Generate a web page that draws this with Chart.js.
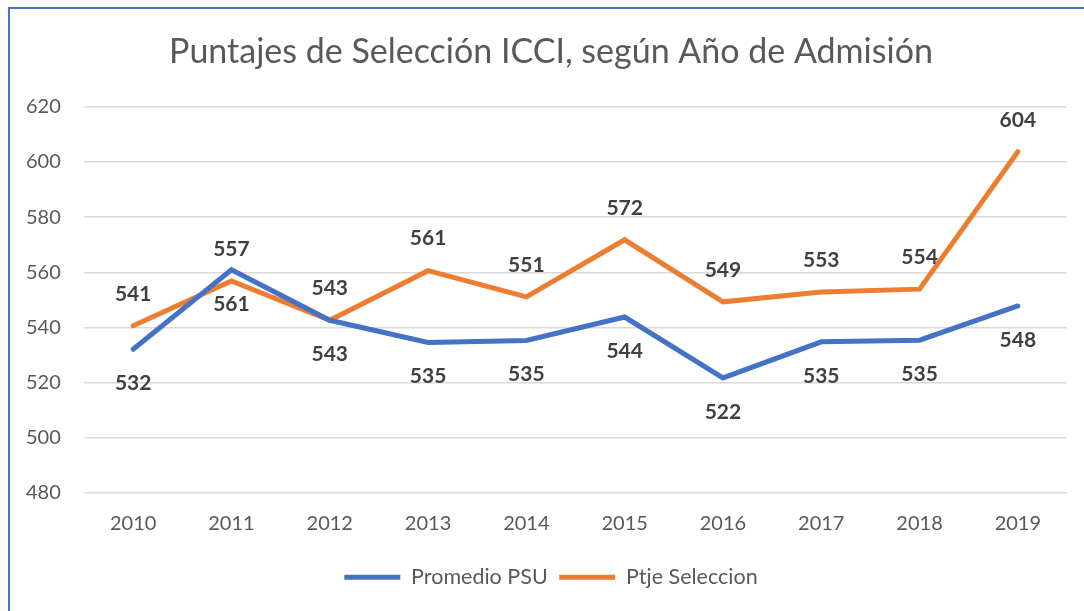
<!DOCTYPE html>
<html>
<head>
<meta charset="utf-8">
<script src="https://cdn.jsdelivr.net/npm/chart.js@4/dist/chart.umd.min.js"></script>
<style>
    html, body { margin: 0; padding: 0; background: #ffffff; overflow: hidden; }
    #frame {
        position: absolute; left: 8px; top: 7px; width: 1100px; height: 640px;
        border-left: 2px solid #4472c4; border-top: 2px solid #4472c4;
        pointer-events: none;
    }
    #wrap { position: absolute; left: 0; top: 0; width: 1084px; height: 611px; }
</style>
</head>
<body>
<div id="wrap"><canvas id="puntajesChart"></canvas></div>
<div id="frame"></div>
<script>
// Puntajes de seleccion ICCI
const years = ['2010', '2011', '2012', '2013', '2014', '2015', '2016', '2017', '2018', '2019'];
const promedioPSU = [532.1, 560.9, 542.6, 534.6, 535.3, 543.8, 521.7, 534.8, 535.4, 547.8];
const ptjeSeleccion = [540.6, 556.9, 542.6, 560.6, 551.1, 571.8, 549.3, 552.9, 553.9, 603.7];
const yTicks = [480, 500, 520, 540, 560, 580, 600, 620];

const FONT = 'Lato, "Open Sans", sans-serif';

// value labels: orange above the point, blue below
const valueLabels = {
    id: 'valueLabels',
    afterDatasetsDraw(chart) {
        const ctx = chart.ctx;
        ctx.save();
        ctx.font = 'bold 21px ' + FONT;
        ctx.fillStyle = '#404040';
        ctx.textAlign = 'center';
        ctx.textBaseline = 'middle';
        chart.data.datasets.forEach((ds, i) => {
            const meta = chart.getDatasetMeta(i);
            const dy = ds.labelAbove ? -32 : 34;
            meta.data.forEach((pt, j) => {
                ctx.fillText(String(Math.round(ds.data[j])), pt.x, pt.y + dy);
            });
        });
        ctx.restore();
    }
};

new Chart(document.getElementById('puntajesChart'), {
    type: 'line',
    data: {
        labels: years,
        datasets: [
            {
                label: 'Promedio PSU',
                data: promedioPSU,
                borderColor: '#4472c4',
                backgroundColor: '#4472c4',
                borderWidth: 5,
                borderCapStyle: 'round',
                pointRadius: 0,
                tension: 0,
                labelAbove: false
            },
            {
                label: 'Ptje Seleccion',
                data: ptjeSeleccion,
                borderColor: '#ed7d31',
                backgroundColor: '#ed7d31',
                borderWidth: 5,
                borderCapStyle: 'round',
                pointRadius: 0,
                tension: 0,
                labelAbove: true
            }
        ]
    },
    options: {
        responsive: true,
        maintainAspectRatio: false,
        animation: false,
        layout: { padding: { left: 35, right: 17, top: 0, bottom: 13 } },
        plugins: {
            title: {
                display: true,
                text: 'Puntajes de Selección ICCI, según Año de Admisión',
                color: '#595959',
                font: { family: FONT, size: 34, weight: 'normal' },
                padding: { top: 32, bottom: 34 }
            },
            legend: {
                position: 'bottom',
                labels: {
                    color: '#595959',
                    font: { family: FONT, size: 21.5 },
                    boxWidth: 56,
                    boxHeight: 5,
                    padding: 11.5,
                    generateLabels(chart) {
                        return Chart.defaults.plugins.legend.labels.generateLabels(chart).map(item => {
                            item.lineWidth = 0;
                            return item;
                        });
                    }
                }
            },
            tooltip: { enabled: false }
        },
        scales: {
            x: {
                offset: true,
                grid: { display: false, drawTicks: false },
                border: { display: false },
                ticks: { color: '#595959', font: { family: FONT, size: 20 }, padding: 19 }
            },
            y: {
                min: 480,
                max: 620,
                afterBuildTicks: scale => { scale.ticks = yTicks.map(v => ({ value: v })); },
                afterFit: scale => { scale.width = 49; },
                grid: { color: '#d9d9d9', lineWidth: 1.5, drawTicks: false },
                border: { display: false },
                // mirrored so the labels sit left of the scale box without clipping
                ticks: { color: '#595959', font: { family: FONT, size: 20 }, mirror: true, padding: -58 }
            }
        }
    },
    plugins: [valueLabels]
});
</script>
</body>
</html>
